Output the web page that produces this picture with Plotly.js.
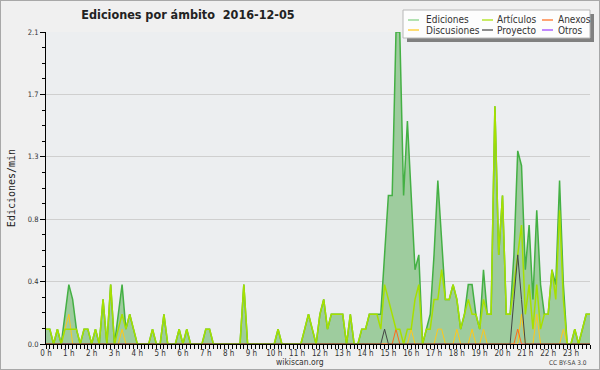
<!DOCTYPE html>
<html><head><meta charset="utf-8">
<script src="https://cdn.plot.ly/plotly-3.0.1.min.js"></script>
<style>
html,body{margin:0;padding:0;background:#f0f0f0;}
#wrap{position:relative;width:600px;height:370px;overflow:hidden;}
#chart{width:600px;height:370px;}
#frame{position:absolute;left:0;top:0;width:600px;height:370px;box-sizing:border-box;border:1px solid #a8a8a8;pointer-events:none;}
</style></head><body>
<div id="wrap"><div id="chart"></div><div id="frame"></div></div>
<script>
// Edits per minute, one value per 10-minute slot, 2016-12-05 00:00 .. 23:50
const ediciones = [
 0.1,0.1,0,0.1,0,0.2,0.4,0.3,0.1,0,0.1,0.1,
 0,0.1,0,0.3,0,0.4,0,0.2,0.4,0.1,0.2,0.1,
 0,0,0,0,0.1,0,0,0.2,0,0,0,0.1,
 0,0.1,0,0,0,0,0.1,0.1,0,0,0,0,
 0,0,0,0,0.4,0,0,0,0,0,0,0,
 0,0.1,0,0,0,0,0,0,0.1,0.2,0.1,0,
 0.2,0.3,0.1,0.2,0.2,0.2,0.2,0,0.2,0,0,0.1,
 0.1,0.2,0.2,0.2,0.2,0.6,1.0,1.0,2.1,2.1,1.0,1.5,
 1.0,0.5,0.6,0,0.1,0.2,0.6,1.1,0.7,0.3,0.3,0.4,
 0.3,0.1,0.2,0.4,0.4,0.2,0.1,0.5,0.2,0.2,1.6,0.6,
 1.0,0.2,0.2,0.6,1.3,1.2,0.5,0.8,0.3,0.9,0.4,0.2,
 0.2,0.5,0.4,1.1,0.4,0,0,0.1,0,0.1,0.2,0.2
];
const articulos = [
 0.1,0.1,0,0.1,0,0.1,0.1,0.1,0.1,0,0.1,0.1,
 0,0.1,0,0.3,0,0.4,0,0.1,0.2,0.1,0.2,0.1,
 0,0,0,0,0.1,0,0,0.2,0,0,0,0.1,
 0,0.1,0,0,0,0,0.1,0.1,0,0,0,0,
 0,0,0,0,0.4,0,0,0,0,0,0,0,
 0,0.1,0,0,0,0,0,0,0.1,0.2,0.1,0,
 0.2,0.3,0.1,0.2,0.2,0.2,0.2,0,0.2,0,0,0.1,
 0.1,0.2,0.2,0.2,0.1,0.4,0.3,0.2,0.1,0.1,0,0.1,
 0.1,0.3,0.4,0,0.1,0.1,0.3,0.3,0.5,0.3,0.3,0.4,
 0.3,0.1,0.2,0.3,0.2,0.2,0.1,0.3,0.2,0.2,1.6,0.6,
 1.0,0.2,0.2,0.4,0.6,0.8,0.2,0.4,0.1,0.4,0.1,0.2,
 0.2,0.5,0.3,0.9,0.3,0,0,0.1,0,0.1,0.2,0.2
];
const discusiones = [
 0,0,0,0,0,0.1,0.2,0,0,0,0,0,
 0,0,0,0,0,0,0,0,0.1,0,0,0,
 0,0,0,0,0,0,0,0,0,0,0,0,
 0,0,0,0,0,0,0,0,0,0,0,0,
 0,0,0,0,0,0,0,0,0,0,0,0,
 0,0,0,0,0,0,0,0,0,0,0,0,
 0,0,0,0,0,0,0,0,0,0,0,0,
 0,0,0,0,0,0,0,0,0,0,0,0,
 0.1,0,0,0,0,0,0,0.1,0.1,0,0,0,
 0.1,0,0,0,0.1,0,0,0.1,0,0,0,0,
 0,0,0,0,0,0.2,0,0,0,0.2,0,0,
 0,0,0,0,0.1,0,0,0,0,0,0,0
];
const anexos = [
 0,0,0,0,0,0,0,0,0,0,0,0,
 0,0,0,0,0,0,0,0,0,0,0,0,
 0,0,0,0,0,0,0,0,0,0,0,0,
 0,0,0,0,0,0,0,0,0,0,0,0,
 0,0,0,0,0,0,0,0,0,0,0,0,
 0,0,0,0,0,0,0,0,0,0,0,0,
 0,0,0,0,0,0,0,0,0,0,0,0,
 0,0,0,0,0,0,0,0,0.1,0,0,0,
 0,0,0,0,0,0,0,0,0,0,0,0,
 0,0,0,0,0,0,0,0,0,0,0,0,
 0,0,0,0,0.1,0,0,0,0,0,0,0,
 0,0,0,0,0,0,0,0,0,0,0,0
];
const proyecto = [
 0,0,0,0,0,0,0,0,0,0,0,0,
 0,0,0,0,0,0,0,0,0,0,0,0,
 0,0,0,0,0,0,0,0,0,0,0,0,
 0,0,0,0,0,0,0,0,0,0,0,0,
 0,0,0,0,0,0,0,0,0,0,0,0,
 0,0,0,0,0,0,0,0,0,0,0,0,
 0,0,0,0,0,0,0,0,0,0,0,0,
 0,0,0,0,0,0.1,0,0,0,0,0,0,
 0,0,0,0,0,0,0,0,0,0,0,0,
 0,0,0,0,0,0,0,0,0,0,0,0,
 0,0,0,0.3,0.6,0.3,0,0,0,0,0,0,
 0,0,0,0,0,0,0,0,0,0,0,0
];
const otros = [
 0,0,0,0,0,0,0,0,0,0,0,0,
 0,0,0,0,0,0,0,0,0,0,0,0,
 0,0,0,0,0,0,0,0,0,0,0,0,
 0,0,0,0,0,0,0,0,0,0,0,0,
 0,0,0,0,0,0,0,0,0,0,0,0,
 0,0,0,0,0,0,0,0,0,0,0,0,
 0,0,0,0,0,0,0,0,0,0,0,0,
 0,0,0,0,0,0,0,0,0,0,0,0,
 0,0,0,0,0,0,0,0,0,0,0,0,
 0,0,0,0,0,0,0,0,0,0,0,0,
 0,0,0,0,0,0,0,0,0,0,0,0,
 0,0,0,0,0,0,0,0,0,0,0,0
];
const seriesNames = ['Ediciones','Artículos','Anexos','Discusiones','Proyecto','Otros'];
const titleText = 'Ediciones por ámbito\u00a0\u00a02016-12-05';
const day = '2016-12-05';

// 10-minute time slots of the day
const times = [];
for (let h = 0; h < 24; h++) {
  for (let m = 0; m < 60; m += 10) {
    times.push(day + ' ' + String(h).padStart(2,'0') + ':' + String(m).padStart(2,'0'));
  }
}

const F = "'DejaVu Sans Condensed', 'DejaVu Sans', sans-serif";
const colors = {
  Ediciones: '#44b044', Artículos: '#a6e000', Anexos: '#ff6a1a',
  Discusiones: '#ffc81a', Proyecto: '#444444', Otros: '#9a3cff'
};

function line(y, name, w) {
  return {x: times, y: y, name: name, type: 'scatter', mode: 'lines',
          line: {color: colors[name], width: w}, hoverinfo: 'x+y'};
}
const traces = [
  Object.assign(line(ediciones, 'Ediciones', 1.5), {fill: 'tozeroy', fillcolor: 'rgb(158,204,158)'}),
  line(otros, 'Otros', 1),
  line(discusiones, 'Discusiones', 1),
  line(anexos, 'Anexos', 1),
  line(articulos, 'Artículos', 1.5),
  line(proyecto, 'Proyecto', 1)
];

// plot area in pixels: x 46..590, y 32..344
const L = 46, R = 590, T = 32, B = 344;
const px = v => (v - L) / (R - L);
const py = v => (B - v) / (B - T);

const shapes = [
  {type:'rect', xref:'paper', yref:'paper', x0:px(407), x1:px(594), y0:py(42), y1:py(14), fillcolor:'#808080', line:{width:0}},
  {type:'rect', xref:'paper', yref:'paper', x0:px(403), x1:px(590), y0:py(38), y1:py(10), fillcolor:'#fdfdfd', line:{color:'#b8b8b8', width:1}}
];
const annotations = [];
const legendPos = [
  [408, 424, 20], [482, 495, 20], [542, 556, 20],
  [408, 424, 30], [482, 495, 30], [542, 556, 30]
];
const legendOrder = ['Ediciones','Artículos','Anexos','Discusiones','Proyecto','Otros'];
const legendColors = {Ediciones:'#80d080'};
legendOrder.forEach((n, k) => {
  const [lx, tx, ly] = legendPos[k];
  shapes.push({type:'line', xref:'paper', yref:'paper', x0:px(lx), x1:px(lx+11), y0:py(ly), y1:py(ly),
               line:{color: legendColors[n] || colors[n], width:1.2}});
  annotations.push({xref:'paper', yref:'paper', x:px(tx), y:py(ly), xanchor:'left', yanchor:'middle',
                    text:n, showarrow:false, font:{family:F, size:10, color:'#333'}});
});
annotations.push({xref:'paper', yref:'paper', x:px(300), y:py(362), xanchor:'center', yanchor:'middle',
                  text:'wikiscan.org', showarrow:false, font:{family:F, size:8.5, color:'#333'}});
annotations.push({xref:'paper', yref:'paper', x:px(589), y:py(363), xanchor:'right', yanchor:'middle',
                  text:'CC BY-SA 3.0', showarrow:false, font:{family:F, size:6.5, color:'#444'}});

const layout = {
  width: 600, height: 370,
  margin: {l: L, r: 600 - R, t: T, b: 370 - B, pad: 0},
  paper_bgcolor: '#f0f0f0', plot_bgcolor: '#eceef0',
  showlegend: false,
  title: {text: titleText, x: 188/600, xanchor: 'center', y: 1 - 15/370, yanchor: 'middle',
          xref: 'container', yref: 'container',
          font: {family: F, size: 12.5, color: '#222', weight: 'bold'}},
  xaxis: {
    type: 'date', range: [day + ' 00:00', day + ' 23:50'],
    tick0: day + ' 00:00', dtick: 3600000, tickformat: '%-H h',
    ticks: 'outside', ticklen: 4, tickcolor: '#000', tickwidth: 1,
    showline: true, linecolor: '#000', linewidth: 1,
    showgrid: false, zeroline: false, ticklabelstandoff: -3,
    tickfont: {family: F, size: 8, color: '#333'},
    minor: {dtick: 600000, ticks: 'outside', ticklen: 4, tickcolor: '#000', tickwidth: 1, showgrid: false}
  },
  yaxis: {
    range: [0, 2.1], tick0: 0, dtick: 0.42, tickformat: '.1f',
    ticks: 'outside', ticklen: 5, tickcolor: '#000',
    showline: true, linecolor: '#000', linewidth: 1,
    showgrid: true, gridcolor: '#cfcfcf', zeroline: false,
    tickfont: {family: F, size: 7.5, color: '#333'},
    minor: {tick0: 0, dtick: 0.105, ticks: 'outside', ticklen: 3, tickcolor: '#000', showgrid: false},
    title: {text: 'Ediciones/min', standoff: 10, font: {family: "'DejaVu Sans Mono', monospace", size: 10, color: '#222'}}
  },
  shapes: shapes,
  annotations: annotations
};

Plotly.newPlot('chart', traces, layout, {staticPlot: true, displayModeBar: false});
</script>
</body></html>
